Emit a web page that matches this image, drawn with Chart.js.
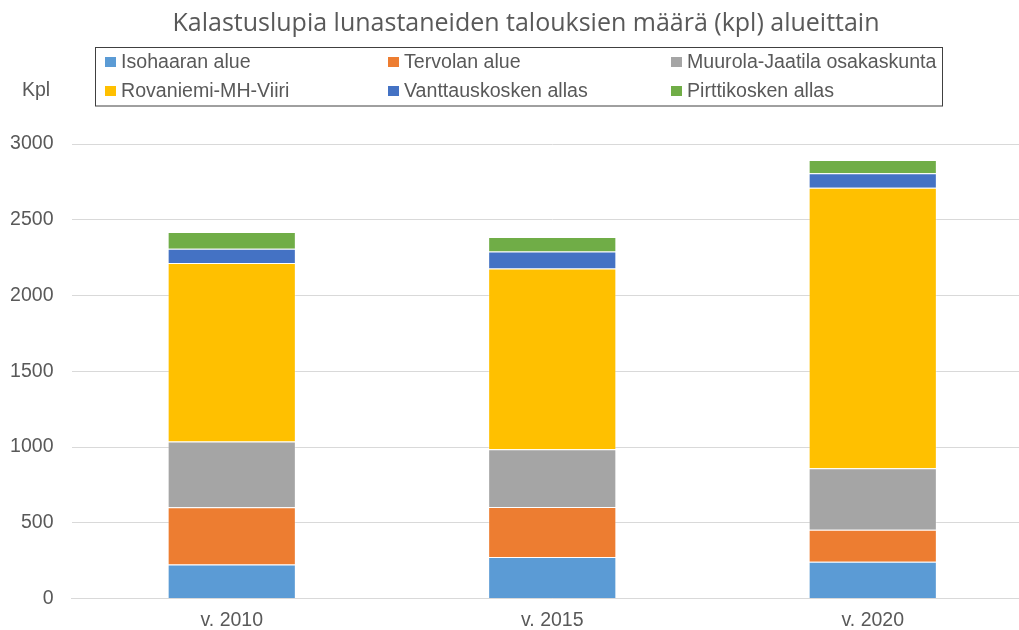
<!DOCTYPE html>
<html>
<head>
<meta charset="utf-8">
<script src="https://cdn.jsdelivr.net/npm/chart.js@4"></script>
<style>
html,body{margin:0;padding:0;background:#fff;overflow:hidden;}
#wrap{width:1040px;height:630px;}
</style>
</head>
<body>
<div id="wrap"><canvas id="c" width="1040" height="630"></canvas></div>
<script>
const titleText = "Kalastuslupia lunastaneiden talouksien määrä (kpl) alueittain";
const yAxisTitle = "Kpl";
const categories = ["v. 2010", "v. 2015", "v. 2020"];
const seriesNames = ["Isohaaran alue", "Tervolan alue", "Muurola-Jaatila osakaskunta", "Rovaniemi-MH-Viiri", "Vanttauskosken allas", "Pirttikosken allas"];
const isohaaran = [225, 274, 244];
const tervolan = [378, 330, 211];
const muurola = [433, 382, 406];
const rovaniemi = [1178, 1192, 1851];
const vanttaus = [94, 112, 95];
const pirtti = [112, 97, 88];
const yTicks = [0, 500, 1000, 1500, 2000, 2500, 3000];
const colors = ["#5B9BD5", "#ED7D31", "#A5A5A5", "#FFC000", "#4472C4", "#70AD47"];
const seriesValues = [isohaaran, tervolan, muurola, rovaniemi, vanttaus, pirtti];

const textColor = "#595959";
const fontFam = "'Liberation Sans', Arial, sans-serif";

const overlay = {
  id: 'overlay',
  afterDraw(chart) {
    const ctx = chart.ctx;
    ctx.save();
    ctx.fillStyle = textColor;
    ctx.font = "25px 'Open Sans', sans-serif";
    ctx.textAlign = 'center';
    ctx.textBaseline = 'middle';
    ctx.fillText(titleText, 526, 24);
    ctx.font = "19.5px " + fontFam;
    ctx.textAlign = 'left';
    ctx.fillText(yAxisTitle, 22, 91);
    ctx.strokeStyle = "#404040";
    ctx.lineWidth = 1;
    ctx.strokeRect(95.5, 47.5, 847, 58.5);
    const colX = [105, 388, 671];
    const rowY = [62, 91];
    chart.data.datasets.forEach((ds, i) => {
      const cx = colX[i % 3], cy = rowY[Math.floor(i / 3)];
      ctx.fillStyle = ds.backgroundColor;
      ctx.fillRect(cx, cy - 5, 11, 10);
      ctx.fillStyle = textColor;
      ctx.font = "19.6px " + fontFam;
      ctx.textBaseline = 'middle';
      ctx.fillText(ds.label, cx + 16, cy + 0.5);
    });
    ctx.restore();
  }
};

new Chart(document.getElementById('c'), {
  type: 'bar',
  data: {
    labels: categories,
    datasets: seriesNames.map((name, i) => ({
      label: name,
      data: seriesValues[i],
      backgroundColor: colors[i],
      borderColor: 'rgba(255,255,255,0.25)',
      borderWidth: 1,
      barPercentage: 0.4,
      categoryPercentage: 1.0
    }))
  },
  options: {
    responsive: false,
    animation: false,
    devicePixelRatio: 1,
    layout: { padding: { top: 144, right: 7, bottom: -12.5, left: 0 } },
    plugins: {
      legend: { display: false },
      title: { display: false },
      tooltip: { enabled: false }
    },
    scales: {
      x: {
        stacked: true,
        grid: { display: false, drawTicks: false },
        border: { display: true, color: '#D9D9D9' },
        ticks: { color: textColor, font: { family: fontFam, size: 19.5, lineHeight: 1.0 }, padding: 12.2 }
      },
      y: {
        stacked: true,
        min: 0,
        max: 3000,
        afterBuildTicks(scale) { scale.ticks = yTicks.map(v => ({ value: v })); },
        afterFit(scale) { scale.width = 71.5; scale.paddingTop = 0; scale.paddingBottom = 0; },
        grid: { color: '#D9D9D9', lineWidth: 1, drawTicks: false },
        border: { display: false },
        ticks: { color: textColor, font: { family: fontFam, size: 19.5 }, padding: 18, callback: v => String(v) }
      }
    }
  },
  plugins: [overlay]
});
</script>
</body>
</html>
